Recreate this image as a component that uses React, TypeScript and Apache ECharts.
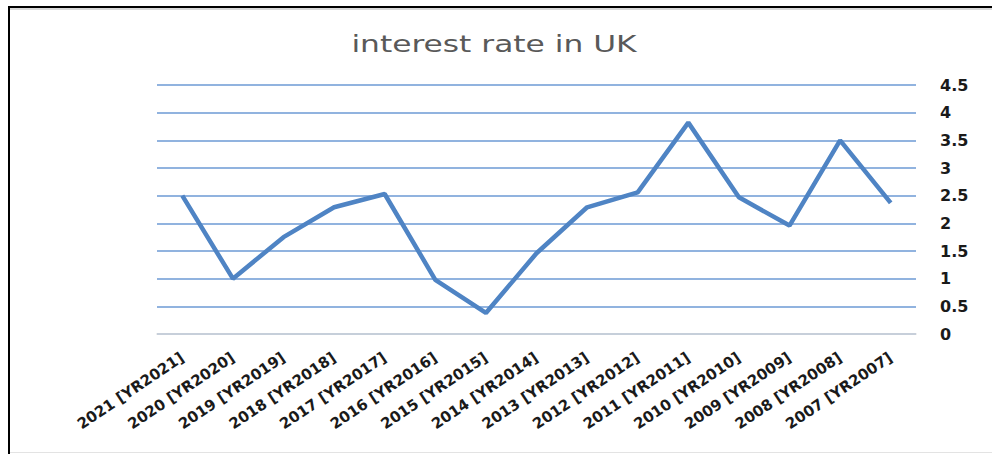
import React, { useEffect, useRef } from "react";
import * as echarts from "echarts";

const categories = [
  "2021 [YR2021]",
  "2020 [YR2020]",
  "2019 [YR2019]",
  "2018 [YR2018]",
  "2017 [YR2017]",
  "2016 [YR2016]",
  "2015 [YR2015]",
  "2014 [YR2014]",
  "2013 [YR2013]",
  "2012 [YR2012]",
  "2011 [YR2011]",
  "2010 [YR2010]",
  "2009 [YR2009]",
  "2008 [YR2008]",
  "2007 [YR2007]",
];

const interestRate = [2.5, 1.0, 1.75, 2.29, 2.53, 0.98, 0.38, 1.46, 2.29, 2.56, 3.82, 2.47, 1.96, 3.5, 2.37];

const titleText = "interest rate in UK";

export default function App() {
  const ref = useRef<HTMLDivElement>(null);

  useEffect(() => {
    if (!ref.current) return;
    const chart = echarts.init(ref.current, null, { renderer: "svg" });
    chart.setOption({
      animation: false,
      backgroundColor: "#ffffff",
      graphic: [
        { type: "rect", shape: { x: 8, y: 6, width: 984, height: 2 }, style: { fill: "#000000" } },
        { type: "rect", shape: { x: 8, y: 8, width: 984, height: 2 }, style: { fill: "#d9d9d9" } },
        { type: "rect", shape: { x: 8, y: 6, width: 2, height: 448 }, style: { fill: "#000000" } },
        { type: "rect", shape: { x: 10, y: 452, width: 982, height: 1 }, style: { fill: "#e3e3e3" } },
        {
          type: "text",
          x: 494,
          y: 44,
          scaleX: 1.36,
          style: {
            text: titleText,
            fontFamily: "DejaVu Sans",
            fontSize: 23,
            fill: "#595959",
            align: "center",
            verticalAlign: "middle",
          },
        },
      ],
      grid: { left: 157, right: 76, top: 85, bottom: 120, containLabel: false },
      xAxis: {
        type: "category",
        data: categories,
        boundaryGap: true,
        axisLine: { show: true, lineStyle: { color: "#d9d9d9", width: 1.5 } },
        axisTick: { show: false },
        axisLabel: {
          interval: 0,
          rotate: 34,
          margin: 22,
          fontFamily: "DejaVu Sans",
          fontWeight: "bold",
          fontSize: 15,
          color: "#1a1a1a",
        },
        splitLine: { show: false },
      },
      yAxis: {
        type: "value",
        position: "right",
        min: 0,
        max: 4.5,
        interval: 0.5,
        axisLine: { show: false },
        axisTick: { show: false },
        axisLabel: {
          margin: 24,
          align: "left",
          fontFamily: "DejaVu Sans",
          fontWeight: "bold",
          fontSize: 16,
          color: "#1a1a1a",
        },
        splitLine: {
          show: true,
          lineStyle: { color: "#6d9ad4", width: 1.5 },
        },
      },
      series: [
        {
          type: "line",
          data: interestRate,
          symbol: "none",
          lineStyle: { color: "#4f84c4", width: 4.5 },
          itemStyle: { color: "#4f84c4" },
        },
      ],
    });
    return () => chart.dispose();
  }, []);

  return (
    <div
      ref={ref}
      style={{ position: "fixed", left: 0, top: 0, width: 992, height: 454 }}
    />
  );
}
